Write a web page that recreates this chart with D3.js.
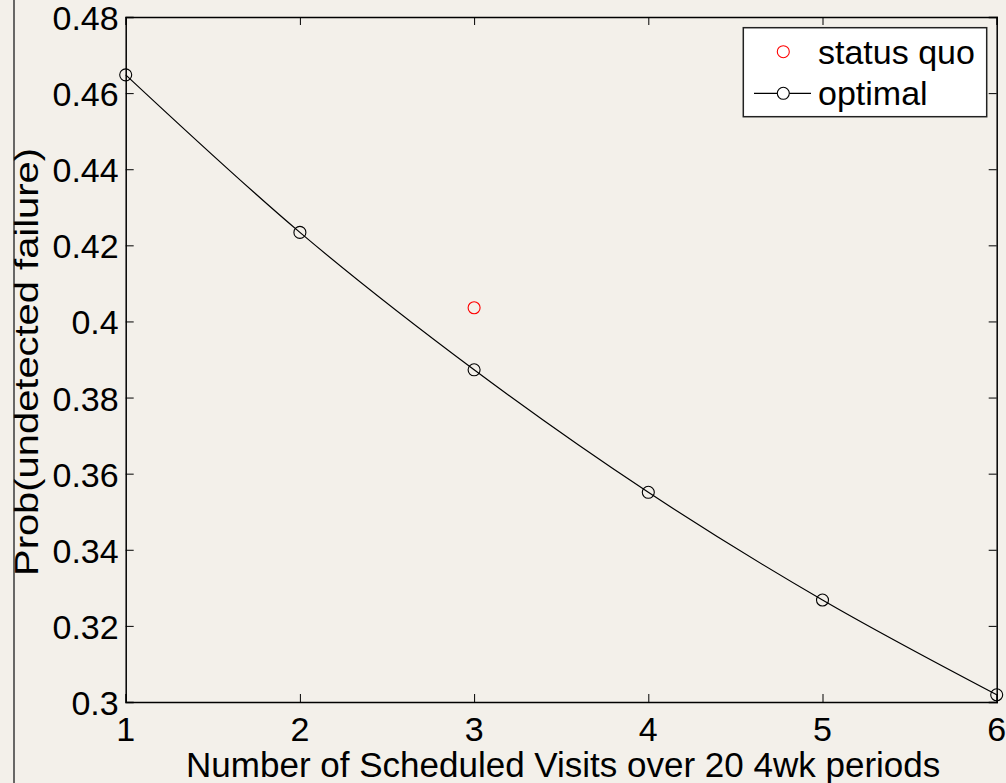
<!DOCTYPE html>
<html>
<head>
<meta charset="utf-8">
<script src="https://cdn.jsdelivr.net/npm/d3@7"></script>
<style>
    body { margin: 0; background: #f3f0ea; }
    svg { display: block; font-family: "Liberation Sans", Arial, Helvetica, sans-serif; }
</style>
</head>
<body>
<script>
// chart data
var visits = [1, 2, 3, 4, 5, 6];
var optimal = [0.4648, 0.4234, 0.3873, 0.3551, 0.3268, 0.3019];
var statusQuoVisits = [3];
var statusQuo = [0.4036];
var xTicks = [1, 2, 3, 4, 5, 6];
var yTicks = [0.30, 0.32, 0.34, 0.36, 0.38, 0.40, 0.42, 0.44, 0.46, 0.48];
var legendLabels = ["status quo", "optimal"];

(function(){
    var width = 1006,
        height = 783;

    var left = 125.7, right = 996.7, top = 17, bottom = 702;

    var svg = d3.select("body")
        .append("svg")
        .attr("width", width)
        .attr("height", height);

    svg.append("rect")
        .attr("width", width)
        .attr("height", height)
        .attr("fill", "#f3f0ea");

    // page frame line down the left side
    svg.append("line")
        .attr("x1", 14).attr("x2", 14)
        .attr("y1", 0).attr("y2", height)
        .attr("stroke", "#3a3a3a")
        .attr("stroke-width", 1.5);

    var x = d3.scaleLinear().domain([1, 6]).range([left, right]);
    var y = d3.scaleLinear().domain([0.3, 0.48]).range([bottom, top]);

    var fmt = d3.format(".2~f");
    var tickLen = 8;

    // axes, matlab style: ticks inside on all four sides
    var xAxisB = d3.axisBottom(x).tickValues(xTicks).tickSize(-tickLen).tickPadding(0).tickFormat("");
    var xAxisT = d3.axisTop(x).tickValues(xTicks).tickSize(-tickLen).tickFormat("");
    var yAxisL = d3.axisLeft(y).tickValues(yTicks).tickSize(-tickLen).tickFormat("");
    var yAxisR = d3.axisRight(y).tickValues(yTicks).tickSize(-tickLen).tickFormat("");

    [[xAxisB, "translate(0," + bottom + ")"],
     [xAxisT, "translate(0," + top + ")"],
     [yAxisL, "translate(" + left + ",0)"],
     [yAxisR, "translate(" + right + ",0)"]].forEach(function(a){
        var g = svg.append("g").attr("transform", a[1]).call(a[0]);
        g.select(".domain").attr("stroke", "#000").attr("stroke-width", 1.5);
        g.selectAll(".tick line").attr("stroke", "#000").attr("stroke-width", 1);
    });

    // tick labels
    svg.selectAll(".xlab")
        .data(xTicks)
        .enter()
        .append("text")
        .attr("class", "xlab")
        .attr("x", function(d){ return x(d); })
        .attr("y", bottom + 39)
        .attr("text-anchor", "middle")
        .attr("font-size", 34)
        .text(function(d){ return d; });

    svg.selectAll(".ylab")
        .data(yTicks)
        .enter()
        .append("text")
        .attr("class", "ylab")
        .attr("x", left - 7)
        .attr("y", function(d){ return y(d) + 13; })
        .attr("text-anchor", "end")
        .attr("font-size", 34)
        .text(function(d){ return fmt(d); });

    // axis titles
    svg.append("text")
        .attr("x", (left + right) / 2 + 2)
        .attr("y", 777)
        .attr("text-anchor", "middle")
        .attr("font-size", 35)
        .text("Number of Scheduled Visits over 20 4wk periods");

    // the reference y title is drawn stretched along its length
    svg.append("text")
        .attr("transform", "translate(38,362) rotate(-90)")
        .attr("text-anchor", "middle")
        .attr("font-size", 34)
        .attr("textLength", 428)
        .attr("lengthAdjust", "spacingAndGlyphs")
        .text("Prob(undetected failure)");

    // optimal line + markers
    var pts = visits.map(function(v, i){ return [v, optimal[i]]; });
    var line = d3.line()
        .x(function(d){ return x(d[0]); })
        .y(function(d){ return y(d[1]); })
        .curve(d3.curveMonotoneX);

    svg.append("path")
        .datum(pts)
        .attr("d", line)
        .attr("fill", "none")
        .attr("stroke", "#000")
        .attr("stroke-width", 1.2);

    svg.selectAll(".opt")
        .data(pts)
        .enter()
        .append("circle")
        .attr("class", "opt")
        .attr("cx", function(d){ return x(d[0]); })
        .attr("cy", function(d){ return y(d[1]); })
        .attr("r", 6)
        .attr("fill", "none")
        .attr("stroke", "#000")
        .attr("stroke-width", 1.1);

    // status quo marker
    svg.selectAll(".sq")
        .data(statusQuoVisits.map(function(v, i){ return [v, statusQuo[i]]; }))
        .enter()
        .append("circle")
        .attr("class", "sq")
        .attr("cx", function(d){ return x(d[0]); })
        .attr("cy", function(d){ return y(d[1]); })
        .attr("r", 6)
        .attr("fill", "none")
        .attr("stroke", "#ff0000")
        .attr("stroke-width", 1.1);

    // legend
    var lg = svg.append("g");
    lg.append("rect")
        .attr("x", 743.3).attr("y", 27.7)
        .attr("width", 243.4).attr("height", 89)
        .attr("fill", "#fff")
        .attr("stroke", "#222")
        .attr("stroke-width", 1.5);

    lg.append("circle")
        .attr("cx", 783.3).attr("cy", 51.7).attr("r", 6)
        .attr("fill", "none").attr("stroke", "#ff0000").attr("stroke-width", 1.1);

    lg.append("line")
        .attr("x1", 754).attr("x2", 811)
        .attr("y1", 93.3).attr("y2", 93.3)
        .attr("stroke", "#000").attr("stroke-width", 1.2);
    lg.append("circle")
        .attr("cx", 783.3).attr("cy", 93.3).attr("r", 6)
        .attr("fill", "#fff").attr("stroke", "#000").attr("stroke-width", 1.1);

    lg.selectAll(".lt")
        .data(legendLabels)
        .enter()
        .append("text")
        .attr("class", "lt")
        .attr("x", 818)
        .attr("y", function(d, i){ return 63.5 + i * 41.6; })
        .attr("font-size", 34)
        .text(function(d){ return d; });
})();
</script>
</body>
</html>
